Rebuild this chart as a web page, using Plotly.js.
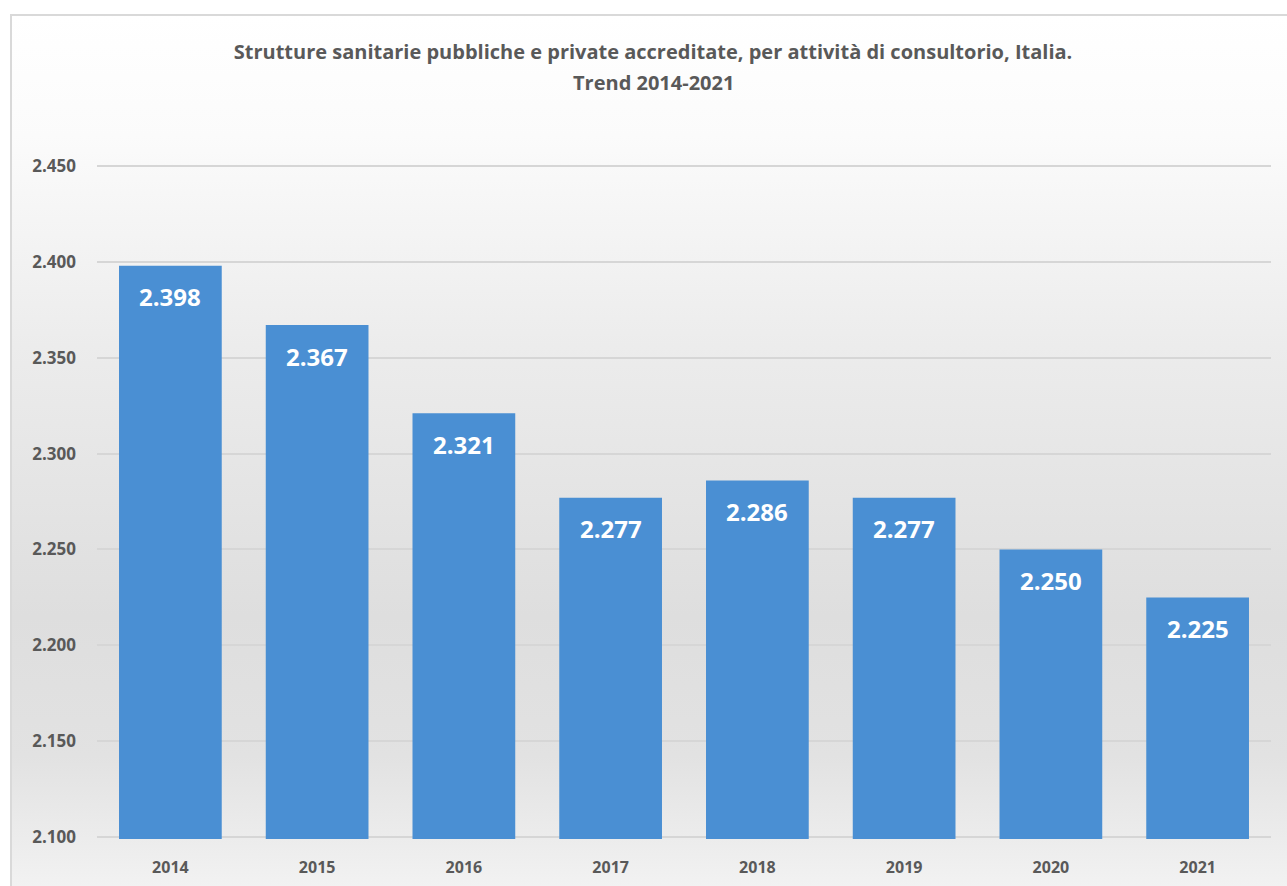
<!DOCTYPE html>
<html>
<head>
<meta charset="utf-8">
<script src="https://cdn.plot.ly/plotly-3.0.1.min.js"></script>
<style>
  html, body { margin: 0; padding: 0; background: #ffffff; }
  #wrap { position: relative; width: 1287px; height: 886px; overflow: hidden; }
  #bg { position: absolute; left: 10px; top: 14px; width: 1290px; height: 900px;
        border: 2px solid #d9d9d9; box-sizing: border-box;
        background: linear-gradient(to bottom, #ffffff 0px, #fbfbfb 120px, #ececec 330px, #dedede 600px, #e2e2e2 740px, #f3f3f3 880px); }
  #chart { position: absolute; left: 0; top: 0; width: 1287px; height: 886px; }
</style>
</head>
<body>
<div id="wrap">
  <div id="bg"></div>
  <div id="chart"></div>
</div>
<script>
const years = ['2014', '2015', '2016', '2017', '2018', '2019', '2020', '2021'];
const values = [2398, 2367, 2321, 2277, 2286, 2277, 2250, 2225];
const yTicks = [2100, 2150, 2200, 2250, 2300, 2350, 2400, 2450];
const titleLine1 = 'Strutture sanitarie pubbliche e private accreditate, per attività di consultorio, Italia.';
const titleLine2 = 'Trend 2014-2021';

const fmt = v => { const s = String(v); return s.slice(0, s.length - 3) + '.' + s.slice(-3); };

const FONT = 'Open Sans, Noto Sans, sans-serif';
const GRAY = '#595959';

const trace = {
  type: 'bar',
  x: years,
  y: values,
  marker: { color: '#4a8fd3', line: { width: 0 } },
  hoverinfo: 'x+y'
};

// On a category axis, annotation x is given as the category index
const annotations = years.map((yr, i) => ({
  x: i, y: values[i], xref: 'x', yref: 'y',
  text: '<b>' + fmt(values[i]) + '</b>',
  showarrow: false, yanchor: 'middle', yshift: -31,
  font: { family: FONT, size: 24, color: '#ffffff' }
}));
annotations.push({
  xref: 'paper', yref: 'paper', x: (653 - 97) / 1174, y: (838 - 84) / 673,
  xanchor: 'center', yanchor: 'middle', showarrow: false,
  text: '<b>' + titleLine2 + '</b>',
  font: { family: FONT, size: 20, color: GRAY }
});

const layout = {
  width: 1287, height: 886,
  paper_bgcolor: 'rgba(0,0,0,0)',
  plot_bgcolor: 'rgba(0,0,0,0)',
  separators: ',.',
  margin: { l: 97, r: 16, t: 164, b: 47 },
  bargap: 0.3,
  showlegend: false,
  title: {
    text: '<b>' + titleLine1 + '</b>',
    x: 653 / 1287, xanchor: 'center', xref: 'container',
    y: 1 - 52 / 886, yanchor: 'middle', yref: 'container',
    font: { family: FONT, size: 20, color: GRAY }
  },
  xaxis: {
    type: 'category',
    range: [-0.5, years.length - 0.5],
    showgrid: false, zeroline: false, showline: false,
    ticks: '', ticklabelstandoff: 17,
    tickfont: { family: FONT, size: 16, color: GRAY, weight: 'bold' }
  },
  yaxis: {
    range: [2099, 2451],
    tickvals: yTicks,
    tickformat: ',.0f',
    showgrid: true, gridcolor: '#d6d6d6', gridwidth: 2,
    zeroline: false, showline: false, ticks: '',
    ticklabelstandoff: 20,
    tickfont: { family: FONT, size: 17, color: GRAY, weight: 'bold' }
  },
  annotations: annotations
};

Plotly.newPlot('chart', [trace], layout, { displayModeBar: false, staticPlot: true });
</script>
</body>
</html>
